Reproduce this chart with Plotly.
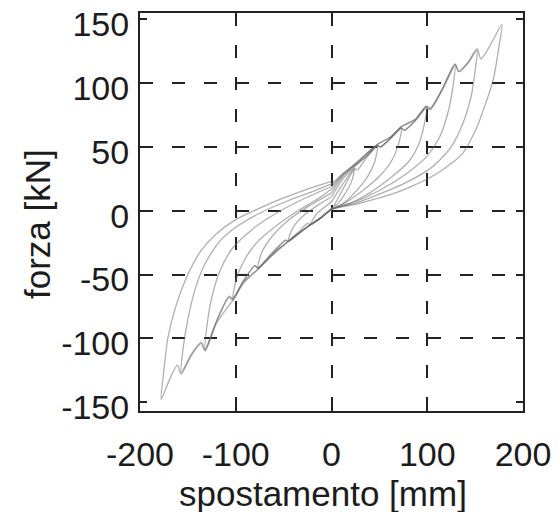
import plotly.graph_objects as go

# ---- data (displacement mm, force kN), one closed cycle each ----
cycle1_x = [0, 12, 24, 21, 13, 6, 0, -10, -22, -16, -7, 0]
cycle1_f = [0, 17, 33, 23, 12, 5, 2, -5, -11, -3, 3, 7]

cycle2_x = [0, 12, 24, 27, 37, 48, 45, 37, 24, 11, 0, -12, -22, -25, -35, -45, -40, -28, -13, 0]
cycle2_f = [7, 21, 33, 32, 42, 51, 38, 26, 14, 5, 1, -6, -11, -10, -17, -23, -13, -3, 5, 11]

cycle3_x = [0, 12, 25, 37, 48, 51, 62, 73, 70, 62, 50, 33, 16, 0,
            -12, -24, -35, -45, -48, -62, -77, -73, -62, -46, -25, 0]
cycle3_f = [11, 25, 35, 43, 51, 50, 57, 65, 52, 38, 27, 16, 7, 1,
            -6, -12, -18, -24, -23, -33, -45, -33, -20, -8, 3, 14]

cycle4_x = [0, 12, 25, 37, 48, 51, 62, 73, 76, 88, 99, 97, 91, 80, 62, 40, 20, 0,
            -12, -24, -45, -48, -62, -77, -80, -92, -103, -100, -92, -78, -58, -35, -15, 0]
cycle4_f = [14, 27, 36, 43, 51, 50, 57, 65, 63, 71, 81, 68, 52, 38, 26, 14, 6, 1,
            -6, -12, -24, -23, -34, -45, -43, -55, -69, -55, -40, -25, -12, 0, 9, 17]

cycle5_x = [0, 12, 25, 48, 51, 62, 73, 76, 88, 99, 103, 116, 129,
            127, 122, 113, 100, 80, 55, 28, 0,
            -12, -24, -45, -62, -77, -80, -92, -103, -107, -120, -132,
            -130, -125, -117, -104, -85, -60, -30, 0]
cycle5_f = [17, 28, 36, 51, 50, 57, 65, 63, 71, 81, 79, 95, 114,
            98, 78, 58, 43, 30, 18, 8, 1,
            -6, -12, -24, -34, -45, -43, -55, -69, -67, -86, -109,
            -90, -68, -48, -30, -16, -3, 9, 19]

cycle6_x = [0, 12, 25, 48, 62, 73, 88, 99, 103, 116, 129, 133, 143, 152,
            150, 146, 138, 124, 103, 75, 50, 25, 0,
            -12, -24, -45, -62, -77, -92, -103, -107, -120, -132, -136, -146, -157,
            -155, -150, -143, -133, -118, -100, -75, -45, -20, 0]
cycle6_f = [19, 29, 37, 52, 58, 66, 72, 82, 80, 96, 115, 109, 116, 126,
            110, 90, 70, 49, 33, 21, 13, 6, 1,
            -6, -12, -24, -35, -46, -56, -70, -68, -87, -109, -103, -112, -127,
            -108, -85, -63, -43, -25, -13, -2, 8, 15, 21]

cycle7_x = [0, 12, 25, 48, 62, 73, 88, 99, 103, 116, 129, 133, 143, 152, 156, 166, 178,
            175, 169, 160, 151, 137, 112, 77, 50, 25, 0,
            -12, -24, -45, -62, -77, -92, -103, -120, -132, -136, -146, -157, -161, -169, -178,
            -175, -171, -163, -150, -136, -120, -100, -75, -50, -25, 0]
cycle7_f = [21, 29, 37, 52, 58, 66, 72, 82, 80, 96, 115, 109, 117, 127, 119, 130, 146,
            129, 103, 82, 64, 45, 30, 17, 10, 5, 1,
            -6, -12, -24, -35, -46, -57, -70, -88, -110, -104, -113, -128, -121, -132, -148,
            -125, -100, -76, -50, -31, -18, -7, 2, 10, 17, 23]

x_ticks = [-200, -100, 0, 100, 200]
y_ticks = [-150, -100, -50, 0, 50, 100, 150]
x_grid = [-100, 0, 100]
y_grid = [-100, -50, 0, 50, 100]
x_title = "spostamento [mm]"
y_title = "forza [kN]"

cycles = [(cycle1_x, cycle1_f), (cycle2_x, cycle2_f), (cycle3_x, cycle3_f),
          (cycle4_x, cycle4_f), (cycle5_x, cycle5_f), (cycle6_x, cycle6_f),
          (cycle7_x, cycle7_f)]

FONT = "Liberation Sans"
TXT = "#1c1c1c"

fig = go.Figure()
for cx, cf in cycles:
    fig.add_trace(go.Scatter(
        x=cx, y=cf, mode="lines",
        line=dict(color="rgba(110,110,110,0.55)", width=1.3, shape="spline", smoothing=0.7),
        showlegend=False, hoverinfo="skip"))

# invisible trace to activate the grid-only overlay axes
fig.add_trace(go.Scatter(x=[0], y=[0], xaxis="x2", yaxis="y2", mode="markers",
                         marker=dict(opacity=0), showlegend=False, hoverinfo="skip"))

XR = [-200, 200]
YR = [-157, 155]

fig.update_layout(
    width=558, height=512,
    margin=dict(l=140, r=35, t=13, b=101, autoexpand=False),
    paper_bgcolor="white", plot_bgcolor="rgba(0,0,0,0)",
    font=dict(family=FONT, size=34, color=TXT),
    xaxis=dict(range=XR, tickvals=x_ticks, ticktext=[str(v) for v in x_ticks],
               showgrid=False, zeroline=False, showline=True, linecolor="#222",
               linewidth=2, mirror="allticks", ticks="inside", ticklen=7,
               tickwidth=2, tickcolor="#222", ticklabelstandoff=12, automargin=False,
               ticklabeloverflow="allow",
               tickfont=dict(family=FONT, size=34, color=TXT)),
    yaxis=dict(range=YR, tickvals=y_ticks, ticktext=[str(v) for v in y_ticks],
               showgrid=False, zeroline=False, showline=True, linecolor="#222",
               linewidth=2, mirror="allticks", ticks="inside", ticklen=7,
               tickwidth=2, tickcolor="#222", ticklabelstandoff=2, automargin=False,
               ticklabeloverflow="allow", ticklabelshift=5,
               tickfont=dict(family=FONT, size=34, color=TXT)),
    xaxis2=dict(range=XR, overlaying="x", tickvals=x_grid, showticklabels=False,
                showgrid=True, gridcolor="#222", gridwidth=2, griddash="13px,19px",
                zeroline=False, showline=False, ticks="", automargin=False),
    yaxis2=dict(range=YR, overlaying="y", tickvals=y_grid, showticklabels=False,
                showgrid=True, gridcolor="#222", gridwidth=2, griddash="13px,19px",
                zeroline=False, showline=False, ticks="", automargin=False),
    annotations=[
        dict(text=x_title, xref="paper", yref="paper", x=0.479, y=-0.208,
             xanchor="center", yanchor="middle", showarrow=False,
             font=dict(family=FONT, size=35, color=TXT)),
        dict(text=y_title, xref="paper", yref="paper", x=-0.266, y=0.47,
             xanchor="center", yanchor="middle", textangle=-90, showarrow=False,
             font=dict(family=FONT, size=35, color=TXT)),
    ],
)

# remove the browser's default 8px page margin so the figure fills the window exactly
fig.write_html("out.html", config={"displayModeBar": False},
               post_script="document.body.style.margin='0';")
